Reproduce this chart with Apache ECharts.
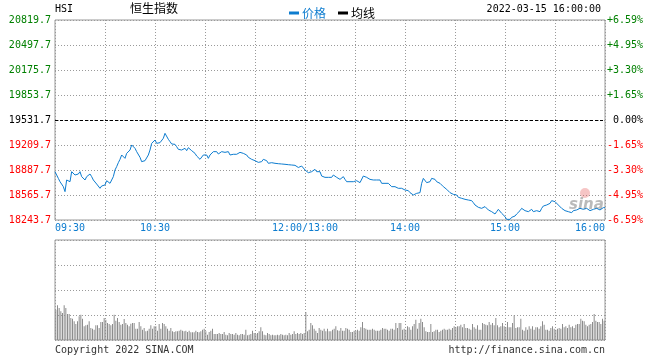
<!DOCTYPE html>
<html>
<head>
<meta charset="utf-8">
<script src="https://cdn.jsdelivr.net/npm/echarts@6/dist/echarts.min.js"></script>
<style>
  html, body { margin: 0; padding: 0; background: #fff; }
  #chart { width: 660px; height: 360px; }
</style>
</head>
<body>
<div id="chart"></div>
<script>
// ---------- data ----------
const indexName = 'HSI';
const indexTitle = '恒生指数';
const timestampText = '2022-03-15 16:00:00';
const prevClose = 19531.7;
const priceStep = 322;

// x ticks: trading minutes since 09:30 (lunch break collapsed)
const tickMinutes = [0, 60, 150, 210, 270, 330];
const tickLabels = ['09:30', '10:30', '12:00/13:00', '14:00', '15:00', '16:00'];

// price per trading minute (index = minute since 09:30)
const priceValues = [
  18866, 18823, 18780, 18737, 18737, 18673, 18609, 18759, 18767, 18737,
  18866, 18845, 18823, 18845, 18836, 18866, 18802, 18802, 18759, 18802,
  18823, 18836, 18802, 18759, 18737, 18707, 18707, 18652, 18682, 18673,
  18695, 18750, 18737, 18716, 18737, 18802, 18888, 18931, 18982, 19025,
  19081, 19081, 19038, 19102, 19094, 19145, 19210, 19223, 19167, 19124,
  19111, 19051, 18995, 18982, 19008, 19025, 19081, 19145, 19231, 19253,
  19274, 19231, 19240, 19240, 19240, 19296, 19360, 19351, 19283, 19253,
  19223, 19210, 19218, 19188, 19154, 19167, 19145, 19124, 19167, 19137,
  19175, 19167, 19137, 19124, 19102, 19068, 19051, 19025, 19016, 19081,
  19068, 19081, 19038, 19081, 19081, 19124, 19115, 19124, 19094, 19102,
  19124, 19124, 19115, 19132, 19124, 19081, 19090, 19090, 19102, 19090,
  19102, 19115, 19102, 19102, 19090, 19081, 19051, 19029, 19025, 19004,
  19008, 18995, 18986, 18965, 18995, 19025, 19016, 19008, 18974, 18986,
  18982, 18974, 18974, 18974, 18969, 18965, 18965, 18961, 18961, 18961,
  18956, 18952, 18952, 18952, 18948, 18944, 18920, 18931,
  18939, 18931, 18888, 18866, 18853, 18845, 18866, 18879, 18896, 18866,
  18845, 18866, 18810, 18802, 18793, 18802, 18793, 18780, 18793, 18823,
  18810, 18793, 18793, 18767, 18767, 18802, 18767, 18737, 18759, 18737,
  18759, 18737, 18737, 18750, 18725, 18725, 18737, 18810, 18810, 18793,
  18780, 18767, 18750, 18759, 18767, 18759, 18780, 18759, 18716, 18716,
  18716, 18716, 18716, 18703, 18673, 18682, 18673, 18652, 18652, 18639,
  18652, 18639, 18630, 18622, 18622, 18596, 18579, 18566, 18553, 18587,
  18587, 18596, 18716, 18780, 18759, 18725, 18716, 18737, 18780, 18802,
  18767, 18737, 18716, 18716, 18695, 18673, 18652, 18639, 18622, 18596,
  18587, 18574, 18566, 18566, 18536, 18523, 18523, 18523, 18510, 18510,
  18501, 18493, 18493, 18467, 18437, 18416, 18407, 18407, 18394, 18394,
  18416, 18394, 18373, 18364, 18351, 18338, 18321, 18351, 18381, 18364,
  18330, 18308, 18287, 18252, 18244, 18252, 18278, 18287, 18295, 18321,
  18338, 18364, 18394, 18381, 18364, 18373, 18351, 18373, 18381, 18351,
  18373, 18364, 18364, 18351, 18394, 18424, 18424, 18437, 18437, 18458,
  18493, 18501, 18480, 18458, 18437, 18416, 18394, 18373, 18364, 18364,
  18351, 18338, 18338, 18364, 18351, 18373, 18364, 18394, 18373, 18381,
  18373, 18394, 18373, 18364, 18373, 18381, 18394, 18394, 18381, 18373,
  18394, 18403, 18403
];

// volume per trading minute (relative units, panel full scale = 100)
const volumeValues = [
  30.3, 34.7, 32, 28.7, 27, 34.7, 32, 26, 26, 22,
  21.3, 18.7, 16, 18.7, 23.7, 25.3, 21.3, 13.7, 14.7, 15.3,
  18.7, 12, 11.3, 10.3, 14.7, 14.7, 12, 18, 18, 22,
  20.3, 17, 16, 14.7, 16, 25.3, 19.3, 22, 18, 15.3,
  16, 21, 17, 15.3, 13.7, 16.3, 17, 17, 11.3, 11.3,
  18, 13.7, 10.3, 12, 8.7, 9.3, 11.3, 14.7, 11.3, 13.7,
  13.7, 9.3, 16, 11.3, 17, 16, 13.7, 11.3, 9.3, 12,
  8.7, 8, 8.7, 8.7, 9.3, 10.3, 9.3, 8.7, 9.3, 8,
  9.3, 7.7, 7.7, 7.7, 9.3, 8, 7.7, 8.7, 10.3, 11.3,
  8.7, 5.3, 8, 9.3, 11.3, 6, 6, 6, 7, 6,
  6, 8, 5.3, 4.7, 7, 6, 6, 5.3, 7, 5.3,
  4.7, 6, 6, 5.3, 10.3, 4.7, 5.3, 6, 9.3, 7,
  6, 7, 8.7, 12.7, 8.7, 5.3, 4.7, 7, 6, 4.7,
  5.3, 4.7, 4.7, 5.3, 4.7, 6, 5.3, 4.7, 5.3, 4.7,
  7, 5.3, 6, 8.7, 6, 7, 6, 7, 6, 7,
  28, 8.7, 10.3, 17, 14.7, 11.3, 9.3, 7, 12, 10.3,
  9.3, 11.3, 8.7, 11.3, 8.7,
  8.7, 10.3, 11.3, 13.7, 9.7, 9.3, 12, 9.3, 9.3, 12,
  11.3, 10.3, 8, 8, 9.3, 9.3, 10.3, 9.3, 12.7, 18,
  12, 11.3, 10.3, 10.3, 10.3, 11.3, 10.3, 9.3, 9.3, 9.3,
  10.3, 12, 11.3, 11.3, 10.3, 9.3, 11.3, 11.3, 10.3, 17,
  12, 17, 17, 10.3, 11.3, 10.3, 13.7, 12.7, 10.3, 13.7,
  16, 20.3, 11.3, 17, 21.3, 18, 12.7, 8.7, 8, 8,
  16, 8, 8.7, 10.3, 10.3, 8, 9.3, 10.3, 11.3, 10.3,
  10.3, 11.3, 10.3, 12, 13.7, 12.7, 13.7, 13.7, 15.3, 12.7,
  16, 12, 12, 11.3, 10.3, 16, 12.7, 11.3, 14.7, 10.3,
  10.3, 17, 16, 15.3, 14.7, 18, 15.3, 17, 14.7, 22,
  14.7, 12.7, 13.7, 17, 13.7, 12.7, 18, 12.7, 12.7, 17,
  24.7, 12, 12.7, 12.7, 21.3, 10.3, 9.3, 12.7, 10.3, 13.7,
  11.3, 13.7, 10.3, 12.7, 12.7, 11.3, 13.7, 18.7, 15.3, 10.3,
  10.3, 9.3, 12, 13.7, 11.3, 10.3, 11.3, 12, 11.3, 16,
  12.7, 13.7, 12, 15.3, 12.7, 13.7, 12, 15.3, 16, 16,
  21.3, 19.3, 18.7, 15.3, 13.7, 15.3, 16, 18, 26, 19.3,
  18, 18, 16, 21.3, 19.3
];

// ---------- chart ----------
const MONO = 'DejaVu Sans Mono';
const CJK = 'Noto Sans CJK SC';
const BLUE = '#0d7ccf';
const GRID_LINE = { show: true, lineStyle: { color: '#9a9a9a', type: [1, 2], width: 1 } };
const totalMinutes = 330;

const priceSeriesData = priceValues.map((p, i) => [i, +(p - prevClose).toFixed(1)]);
const volumeSeriesData = volumeValues.map((v, i) => [i + 0.5, v]);

function signColor(v) {
  v = Number(v);
  if (Math.abs(v) < 1e-6) return '#000000';
  return v > 0 ? '#008000' : '#ff0000';
}

const chart = echarts.init(document.getElementById('chart'), null, { renderer: 'canvas' });
chart.setOption({
  animation: false,
  backgroundColor: '#ffffff',
  textStyle: { fontFamily: MONO },
  legend: {
    left: 284, top: 2,
    icon: 'rect', itemWidth: 10, itemHeight: 3, itemGap: 12,
    selectedMode: false,
    data: [
      { name: '价格', textStyle: { color: BLUE } },
      { name: '均线', textStyle: { color: '#000' } }
    ],
    textStyle: { fontFamily: CJK, fontSize: 12, padding: [0, 0, 0, -2] }
  },
  grid: [
    { left: 55, top: 20, width: 550, height: 200, show: true, borderColor: '#999', borderWidth: 1, backgroundColor: 'transparent' },
    { left: 55, top: 240, width: 550, height: 100, show: true, borderColor: '#999', borderWidth: 1, backgroundColor: 'transparent' }
  ],
  xAxis: [
    {
      gridIndex: 0, type: 'value', min: 0, max: totalMinutes, interval: 30,
      axisLine: { show: false }, axisTick: { show: false },
      splitLine: GRID_LINE,
      axisLabel: {
        show: true, margin: 3, color: BLUE, fontFamily: MONO, fontSize: 10,
        alignMinLabel: 'left', alignMaxLabel: 'right',
        showMinLabel: true, showMaxLabel: true,
        formatter: function (v) {
          const i = tickMinutes.indexOf(Math.round(v));
          return i >= 0 ? tickLabels[i] : '';
        }
      }
    },
    {
      gridIndex: 1, type: 'value', min: 0, max: totalMinutes, interval: 30,
      axisLine: { show: false }, axisTick: { show: false },
      splitLine: GRID_LINE, axisLabel: { show: false }
    }
  ],
  yAxis: [
    {
      gridIndex: 0, type: 'value', position: 'left',
      min: -4 * priceStep, max: 4 * priceStep, interval: priceStep,
      axisLine: { show: false }, axisTick: { show: false },
      splitLine: GRID_LINE,
      axisLabel: {
        margin: 4, fontFamily: MONO, fontSize: 10, padding: [0, 0, 5, 0],
        showMinLabel: true, showMaxLabel: true,
        formatter: v => (Number(v) + prevClose).toFixed(1),
        color: signColor
      }
    },
    {
      gridIndex: 0, type: 'value', position: 'right',
      min: -4 * priceStep, max: 4 * priceStep, interval: priceStep,
      axisLine: { show: false }, axisTick: { show: false },
      splitLine: { show: false },
      axisLabel: {
        margin: 2, fontFamily: MONO, fontSize: 10, padding: [0, 0, 5, 0],
        showMinLabel: true, showMaxLabel: true,
        formatter: function (v) {
          v = Number(v);
          if (Math.abs(v) < 1e-6) return ' 0.00%';
          const p = v / prevClose * 100;
          return (p > 0 ? '+' : '') + p.toFixed(2) + '%';
        },
        color: signColor
      }
    },
    {
      gridIndex: 1, type: 'value', min: 0, max: 100, interval: 25,
      axisLine: { show: false }, axisTick: { show: false },
      splitLine: GRID_LINE, axisLabel: { show: false }
    }
  ],
  graphic: [
    { type: 'text', left: 55, top: 4, style: { text: indexName, font: '10px "DejaVu Sans Mono"', fill: '#000' } },
    { type: 'text', left: 130, top: 2, style: { text: indexTitle, font: '12px "Noto Sans CJK SC"', fill: '#000' } },
    { type: 'text', x: 601, y: 9, style: { text: timestampText, font: '10px "DejaVu Sans Mono"', fill: '#000', align: 'right', verticalAlign: 'middle' } },
    { type: 'text', x: 55, y: 350, style: { text: 'Copyright 2022 SINA.COM', font: '10px "DejaVu Sans Mono"', fill: '#333', align: 'left', verticalAlign: 'middle' } },
    { type: 'text', x: 605, y: 350, style: { text: 'http://finance.sina.com.cn', font: '10px "DejaVu Sans Mono"', fill: '#333', align: 'right', verticalAlign: 'middle' } },
    { type: 'circle', shape: { cx: 585, cy: 193, r: 5 }, style: { fill: 'rgba(230,90,90,0.35)' }, z: 1 },
    { type: 'text', x: 569, y: 205, style: { text: 'sina', font: 'italic bold 15px "DejaVu Sans"', fill: 'rgba(140,140,140,0.6)', verticalAlign: 'middle' }, z: 1 }
  ],
  series: [
    {
      name: '价格', type: 'line', xAxisIndex: 0, yAxisIndex: 0,
      data: priceSeriesData, showSymbol: false, symbol: 'none',
      lineStyle: { color: BLUE, width: 1 }, itemStyle: { color: BLUE },
      z: 5,
      markLine: {
        silent: true, symbol: 'none', label: { show: false },
        lineStyle: { color: '#000', type: [3, 2], width: 1 },
        data: [{ yAxis: 0 }]
      }
    },
    {
      name: '均线', type: 'line', xAxisIndex: 0, yAxisIndex: 0,
      data: [], showSymbol: false, symbol: 'none',
      lineStyle: { color: '#000', width: 1 }, itemStyle: { color: '#000' }
    },
    {
      name: '成交量', type: 'bar', xAxisIndex: 1, yAxisIndex: 2,
      data: volumeSeriesData, barWidth: 1,
      itemStyle: { color: '#8c8c8c' }
    }
  ]
});
</script>
</body>
</html>
